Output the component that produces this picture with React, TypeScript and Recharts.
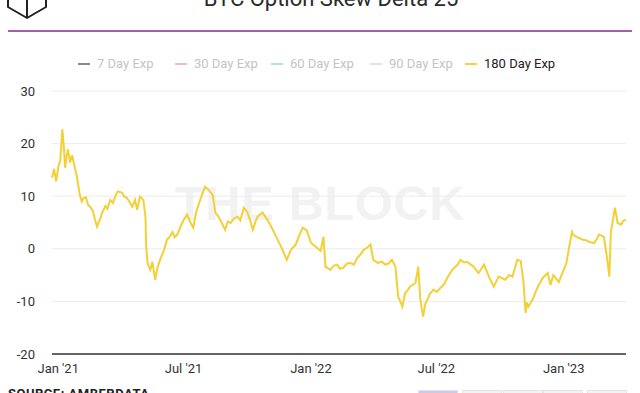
import { CartesianGrid, Line, LineChart, XAxis, YAxis } from "recharts";

const dates = [
  "2020-12-23", "2020-12-26", "2020-12-29", "2021-01-01", "2021-01-04", "2021-01-07", "2021-01-09", "2021-01-11",
  "2021-01-13", "2021-01-15", "2021-01-18", "2021-01-21", "2021-01-24", "2021-01-28", "2021-02-01", "2021-02-04",
  "2021-02-06", "2021-02-10", "2021-02-13", "2021-02-16", "2021-02-20", "2021-02-23", "2021-02-26", "2021-03-02",
  "2021-03-06", "2021-03-10", "2021-03-13", "2021-03-17", "2021-03-21", "2021-03-25", "2021-03-28", "2021-04-03",
  "2021-04-06", "2021-04-10", "2021-04-14", "2021-04-18", "2021-04-22", "2021-04-25", "2021-04-29", "2021-05-04",
  "2021-05-07", "2021-05-08", "2021-05-10", "2021-05-14", "2021-05-17", "2021-05-21", "2021-05-24", "2021-05-28",
  "2021-06-02", "2021-06-07", "2021-06-11", "2021-06-15", "2021-06-18", "2021-06-22", "2021-06-26", "2021-07-01",
  "2021-07-06", "2021-07-11", "2021-07-15", "2021-07-19", "2021-07-25", "2021-08-01", "2021-08-06", "2021-08-12",
  "2021-08-16", "2021-08-20", "2021-08-23", "2021-08-30", "2021-09-03", "2021-09-07", "2021-09-12", "2021-09-17",
  "2021-09-21", "2021-09-26", "2021-10-01", "2021-10-05", "2021-10-09", "2021-10-13", "2021-10-16", "2021-10-23",
  "2021-10-30", "2021-11-03", "2021-11-07", "2021-11-14", "2021-11-21", "2021-11-27", "2021-12-03", "2021-12-10",
  "2021-12-15", "2021-12-20", "2021-12-26", "2022-01-01", "2022-01-08", "2022-01-15", "2022-01-19", "2022-01-22",
  "2022-01-29", "2022-02-03", "2022-02-08", "2022-02-12", "2022-02-17", "2022-02-22", "2022-02-27", "2022-03-04",
  "2022-03-09", "2022-03-14", "2022-03-18", "2022-03-24", "2022-03-28", "2022-04-01", "2022-04-08", "2022-04-13",
  "2022-04-18", "2022-04-23", "2022-04-28", "2022-05-03", "2022-05-07", "2022-05-10", "2022-05-13", "2022-05-17",
  "2022-05-20", "2022-05-24", "2022-06-01", "2022-06-05", "2022-06-08", "2022-06-12", "2022-06-15", "2022-06-18",
  "2022-06-22", "2022-06-27", "2022-07-02", "2022-07-07", "2022-07-12", "2022-07-17", "2022-07-24", "2022-08-01",
  "2022-08-05", "2022-08-10", "2022-08-15", "2022-08-24", "2022-08-31", "2022-09-04", "2022-09-08", "2022-09-15",
  "2022-09-22", "2022-09-29", "2022-10-04", "2022-10-09", "2022-10-14", "2022-10-19", "2022-10-26", "2022-10-31",
  "2022-11-04", "2022-11-07", "2022-11-09", "2022-11-11", "2022-11-17", "2022-11-24", "2022-12-02", "2022-12-09",
  "2022-12-13", "2022-12-17", "2022-12-20", "2022-12-25", "2023-01-01", "2023-01-05", "2023-01-09", "2023-01-13",
  "2023-01-15", "2023-01-19", "2023-01-24", "2023-01-29", "2023-02-03", "2023-02-07", "2023-02-14", "2023-02-18",
  "2023-02-21", "2023-02-28", "2023-03-05", "2023-03-08", "2023-03-10", "2023-03-16", "2023-03-20", "2023-03-25",
  "2023-03-28", "2023-04-01",
];

const skew180 = [
  13.5, 15.2, 12.8, 15.5, 16.8, 22.7, 19.5, 15.4,
  17.6, 18.9, 16.4, 17.8, 16.0, 13.7, 10.3, 9.0,
  9.6, 9.8, 8.4, 8.0, 7.2, 5.6, 4.2, 5.5,
  7.0, 8.1, 7.6, 9.3, 8.7, 10.2, 10.9, 10.7,
  10.0, 9.7, 8.9, 8.0, 9.3, 7.4, 9.9, 9.3,
  6.0, 0.5, -2.7, -4.0, -2.5, -5.9, -3.8, -2.1,
  -0.5, 1.7, 2.3, 3.2, 2.2, 2.7, 4.0, 5.5,
  6.5, 5.0, 4.0, 6.9, 9.3, 11.8, 11.2, 10.3,
  6.9, 6.2, 5.5, 3.6, 5.2, 4.9, 5.8, 6.1,
  5.4, 7.8, 7.0, 5.5, 3.6, 5.2, 6.1, 6.9,
  5.5, 4.6, 3.6, 1.7, -0.2, -2.1, -0.2, 0.8,
  2.5, 4.0, 3.5, 1.1, 0.4, -0.4, 2.3, -3.4,
  -4.0, -3.2, -3.0, -3.8, -3.6, -2.8, -2.7, -3.0,
  -1.7, -1.0, -0.2, 0.3, 0.8, -2.1, -2.7, -2.4,
  -3.0, -2.8, -2.1, -3.4, -9.1, -10.0, -11.0, -8.4,
  -8.0, -7.2, -6.5, -3.4, -9.7, -12.9, -10.5, -9.7,
  -8.5, -7.8, -8.2, -7.4, -6.8, -5.5, -4.0, -3.0,
  -2.1, -2.6, -2.5, -3.4, -4.6, -3.8, -3.0, -5.3,
  -7.2, -5.3, -5.6, -5.9, -5.0, -5.3, -2.1, -2.3,
  -6.5, -12.2, -10.2, -11.0, -9.7, -7.4, -5.5, -4.6,
  -6.9, -5.0, -5.5, -6.3, -4.0, -2.7, 0.4, 3.2,
  2.6, 2.3, 2.0, 1.7, 1.6, 1.3, 1.1, 1.9,
  2.7, 2.3, -2.1, -5.3, 3.0, 7.8, 4.9, 4.6,
  5.3, 5.5,
];

const tickDates = ["2021-01-01", "2021-07-01", "2022-01-01", "2022-07-01", "2023-01-01"];
const tickLabels = ["Jan '21", "Jul '21", "Jan '22", "Jul '22", "Jan '23"];
const yTicks = [-20, -10, 0, 10, 20, 30];

const seriesNames = ["7 Day Exp", "30 Day Exp", "60 Day Exp", "90 Day Exp", "180 Day Exp"];
const seriesColors = ["#8a8a8a", "#f2b6cf", "#b9e0dc", "#e2e2e2", "#f4d23f"];
const seriesActive = [false, false, false, false, true];
const legendX = [78, 175, 271, 370, 465];

const toTime = (d: string) => Date.parse(d + "T00:00:00Z");
const data = dates.map((d, i) => ({ t: toTime(d), v: skew180[i] }));
const ticks = tickDates.map(toTime);
const labelFor = (t: number) => tickLabels[ticks.indexOf(t)] ?? "";

const FONT = "Roboto, 'Open Sans', sans-serif";

export default function App() {
  return (
    <div
      style={{
        position: "absolute",
        left: 0,
        top: 0,
        width: 640,
        height: 393,
        overflow: "hidden",
        background: "#fff",
        fontFamily: FONT,
      }}
    >
      {/* logo cube, cut off at the top */}
      <svg width={60} height={30} style={{ position: "absolute", left: 0, top: 0 }}>
        <g fill="none" stroke="#222" strokeWidth={2} strokeLinejoin="round">
          <polygon points="27,-26 46,-15 46,7 27,18 8,7 8,-15" />
          <polyline points="8,-15 27,-4 46,-15" />
          <line x1={27} y1={-4} x2={27} y2={18} />
        </g>
      </svg>
      <div
        style={{
          position: "absolute",
          left: 0,
          width: 662,
          top: -14,
          textAlign: "center",
          fontSize: 22,
          color: "#2a2a2a",
        }}
      >
        BTC Option Skew Delta 25
      </div>
      <div
        style={{
          position: "absolute",
          left: 8,
          width: 624,
          top: 30,
          height: 2,
          background: "#a85cad",
        }}
      />

      {/* legend */}
      {seriesNames.map((name, i) => (
        <div
          key={name}
          style={{
            position: "absolute",
            left: legendX[i],
            top: 56,
            display: "flex",
            alignItems: "center",
            gap: 7,
            fontSize: 13,
            whiteSpace: "nowrap",
          }}
        >
          <span style={{ display: "inline-block", width: 12, height: 2, background: seriesColors[i] }} />
          <span style={{ color: seriesActive[i] ? "#222" : "#c4c4c4" }}>{name}</span>
        </div>
      ))}

      {/* watermark */}
      <div
        style={{
          position: "absolute",
          left: 0,
          width: 640,
          top: 175,
          textAlign: "center",
          fontFamily: "'Liberation Sans', Arial, sans-serif",
          fontWeight: 700,
          fontSize: 49,
          color: "#f2f2f2",
          letterSpacing: 0.5,
        }}
      >
        THE BLOCK
      </div>

      <div style={{ position: "absolute", left: 0, top: 0 }}>
        <LineChart width={640} height={393} data={data} margin={{ top: 91, right: 14, bottom: 0, left: 0 }}>
          <CartesianGrid vertical={false} stroke="#ececec" />
          <XAxis
            dataKey="t"
            type="number"
            scale="time"
            domain={["dataMin", "dataMax"]}
            ticks={ticks}
            tickFormatter={labelFor}
            height={39}
            tickLine={false}
            tickSize={0}
            tickMargin={10}
            axisLine={{ stroke: "#333", strokeWidth: 1.5 }}
            tick={{ fill: "#333", fontSize: 13, fontFamily: FONT }}
          />
          <YAxis
            domain={[-20, 30]}
            ticks={yTicks}
            width={52}
            axisLine={false}
            tickLine={false}
            tickSize={0}
            tickMargin={17}
            tick={{ fill: "#333", fontSize: 13, fontFamily: FONT }}
          />
          <Line
            type="linear"
            dataKey="v"
            stroke="#f3d036"
            strokeWidth={2}
            dot={false}
            isAnimationActive={false}
          />
        </LineChart>
      </div>

      {/* source + range buttons, cut off at the bottom */}
      <div
        style={{
          position: "absolute",
          left: 8,
          top: 387,
          fontSize: 13,
          fontWeight: 700,
          color: "#222",
          letterSpacing: 0.5,
          lineHeight: "14px",
        }}
      >
        SOURCE: AMBERDATA
      </div>
      {[418, 462, 503, 543, 587].map((x, i) => (
        <div
          key={x}
          style={{
            position: "absolute",
            left: x,
            top: 390,
            width: 38,
            height: 10,
            background: i === 0 ? "#cfc8ec" : "#f3f3f3",
            border: "1px solid #e4e4e4",
          }}
        />
      ))}
    </div>
  );
}
